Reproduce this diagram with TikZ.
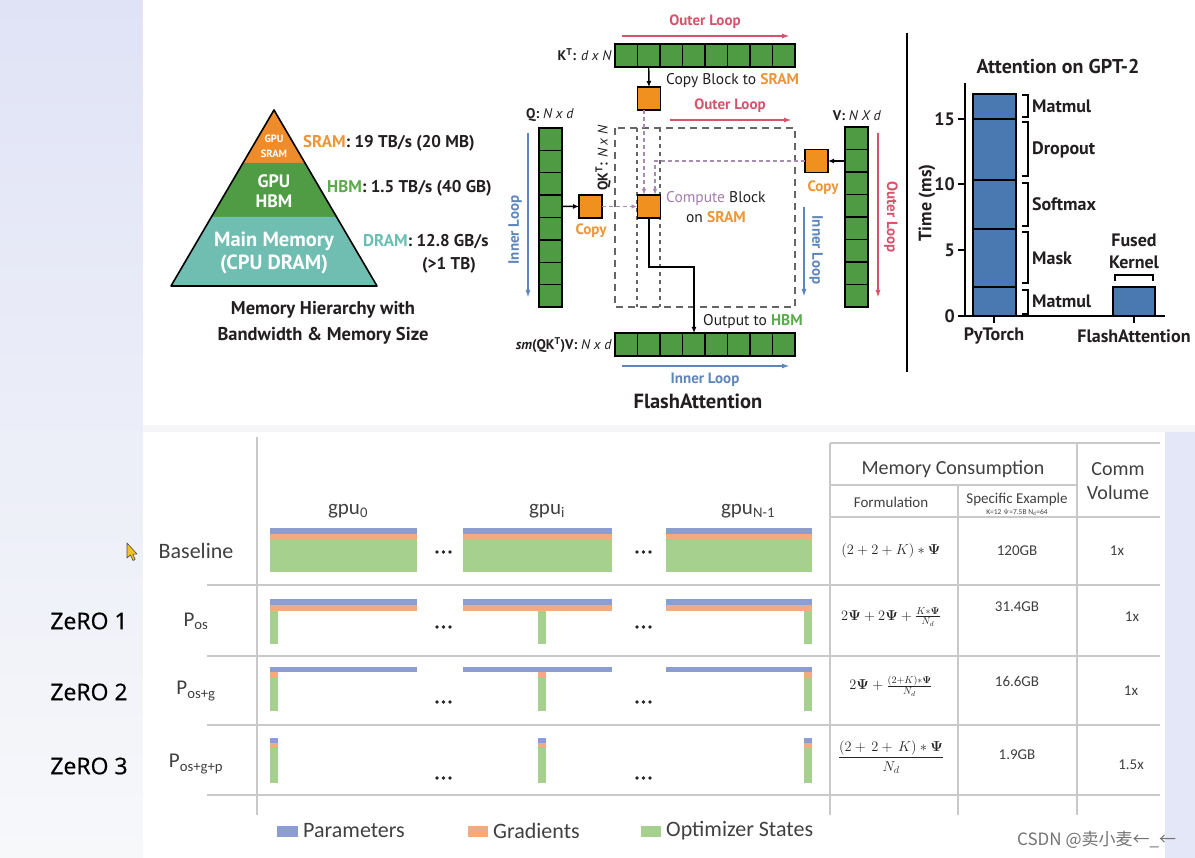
\documentclass[tikz,border=0pt]{standalone}
\usepackage[no-math]{fontspec}
\setmainfont{PT Sans}
\newfontfamily\cali{Carlito}
\newfontfamily\opens{Open Sans}[FakeBold=0.7]
\newfontfamily\cjk{Noto Sans CJK SC}
\usetikzlibrary{arrows.meta,calc}
\newcommand{\fsz}[1]{\fontsize{#1}{\fpeval{1.2*#1}}\selectfont}
\definecolor{sramc}{HTML}{EE8B2B}
\definecolor{hbmc}{HTML}{4F9C45}
\definecolor{dramc}{HTML}{70BDB1}
\definecolor{sramt}{HTML}{EC9636}
\definecolor{hbmt}{HTML}{5BAA4B}
\definecolor{dramt}{HTML}{69BFB3}
\definecolor{cellg}{HTML}{4E9B44}
\definecolor{blk}{HTML}{F0901E}
\definecolor{loopr}{HTML}{D6536D}
\definecolor{loopb}{HTML}{5E86BB}
\definecolor{purp}{HTML}{A57FAE}
\definecolor{pdashc}{HTML}{A98AB4}
\definecolor{barc}{HTML}{4A79B1}
\definecolor{txt}{HTML}{231F20}
\definecolor{lavA}{HTML}{E0E3F6}
\definecolor{lavC}{HTML}{F7F8FA}
\definecolor{gapc}{HTML}{F6F6F9}
\definecolor{rstrip}{HTML}{E4E7F8}
\definecolor{pb}{HTML}{8C9DD4}
\definecolor{po}{HTML}{F2AB80}
\definecolor{pg}{HTML}{A6D08D}
\definecolor{tline}{HTML}{C9C9C9}
\definecolor{tg}{HTML}{404040}
\definecolor{curs}{HTML}{F5C21B}
\tikzset{
  gcell/.style={draw=black, fill=cellg, line width=1.3pt, inner sep=0pt, outer sep=0pt},
  oblk/.style={draw=black, fill=blk, line width=1.3pt, minimum size=23pt, inner sep=0pt, outer sep=0pt},
  tarrow/.style={line width=1.4pt, -{Latex[length=6pt,width=5pt]}},
  pdash/.style={draw=pdashc, line width=1.2pt, dash pattern=on 4pt off 3pt, -{Latex[length=6pt,width=4.5pt]}},
  rloop/.style={draw=loopr, line width=1.6pt, -{Latex[length=8pt,width=5pt]}},
  bloop/.style={draw=loopb, line width=1.6pt, -{Latex[length=8pt,width=5pt]}},
  rtxt/.style={text=loopr, font=\bfseries\fsz{15}},
  btxt/.style={text=loopb, font=\bfseries\fsz{15}},
  otxt/.style={text=sramt, font=\bfseries\fsz{15}},
  brk/.style={line width=1.5pt},
  tl/.style={draw=tline, line width=1.1pt},
  calt/.style={text=tg, font=\cali\fsz{15}},
  chart/.style={font=\bfseries\fsz{18}},
}
\begin{document}
\begin{tikzpicture}[x=1pt,y=-1pt, text=txt, inner sep=1pt]
\useasboundingbox (0,0) rectangle (1195,858);
% backgrounds
\shade[top color=lavA, bottom color=lavC] (0,0) rectangle (1195,858);
\fill[white] (143,0) rectangle (1195,425);
\fill[gapc] (143,425) rectangle (1195,432);
\fill[white] (143,432) rectangle (1165,858);
\fill[rstrip] (1165,432) rectangle (1195,858);

% ================= pyramid =================
\fill[sramc] (274,110) -- (243,163) -- (305,163) -- cycle;
\fill[hbmc] (243,163) -- (211.4,217) -- (336.6,217) -- (305,163) -- cycle;
\fill[dramc] (211.4,217) -- (171,286) -- (377,286) -- (336.6,217) -- cycle;
\draw[line width=1.6pt, line join=round] (274,110) -- (171,286) -- (377,286) -- cycle;
\node[text=white, font=\bfseries\fontsize{10.5}{15}\selectfont, align=center] (gsram) at (274,146) {GPU\\SRAM};
\node[text=white, font=\bfseries\fontsize{18}{20}\selectfont, align=center] (ghbm) at (274,191) {GPU\\HBM};
\node[text=white, font=\bfseries\fontsize{20.5}{23}\selectfont, align=center] (gdram) at (274,253) {Main Memory\\(CPU DRAM)};
\node[anchor=west, font=\bfseries\fsz{17}] (lsram) at (302,143) {\textcolor{sramt}{SRAM}: 19 TB/s (20 MB)};
\node[anchor=west, font=\bfseries\fsz{17}] (lhbm) at (326,188) {\textcolor{hbmt}{HBM}: 1.5 TB/s (40 GB)};
\node[anchor=west, font=\bfseries\fsz{17}] (ldram) at (362,242) {\textcolor{dramt}{DRAM}: 12.8 GB/s};
\node[font=\bfseries\fsz{17}] (ltb) at (449,265) {(>1 TB)};
\node[font=\bfseries\fontsize{18.5}{26}\selectfont, align=center] (cap) at (323,323) {Memory Hierarchy with\\Bandwidth \& Memory Size};

% ================= FlashAttention =================
\foreach \i in {1,...,8} {
  \node[gcell, minimum width=22.5pt, minimum height=23pt] (kt\i) at ({615+22.5*\i-11.25},55.5) {};
  \node[gcell, minimum width=22.5pt, minimum height=23pt] (o\i) at ({615+22.5*\i-11.25},344.5) {};
  \node[gcell, minimum width=23pt, minimum height=22.375pt] (q\i) at (550.5,{128+22.375*\i-11.19}) {};
  \node[gcell, minimum width=23pt, minimum height=22.5pt] (v\i) at (856.5,{127+22.5*\i-11.25}) {};
}
\node[anchor=east, font=\fsz{14}] (ktlab) at (613,55) {\textbf{K\textsuperscript{T}:} \textit{d x N}};
\node[font=\fsz{14}] (qlab) at (550,115) {\textbf{Q:} \textit{N x d}};
\node[font=\fsz{14}] (vlab) at (857,116) {\textbf{V:} \textit{N X d}};
\node[anchor=east, font=\fsz{14}] (olab) at (613,345) {\textbf{\textit{sm}(QK\textsuperscript{T})V:} \textit{N x d}};
\node[rotate=90, font=\fsz{14}] (qklab) at (603,158) {\textbf{QK\textsuperscript{T}:} \textit{N x N}};

% dashed boxes
\draw[draw=black!60, line width=1.3pt, dash pattern=on 7pt off 5pt] (615,128) rectangle (795,307);
\draw[draw=black!60, line width=1.1pt, dash pattern=on 4pt off 4pt] (637,128) -- (637,307) (660,128) -- (660,307);

% orange blocks
\node[oblk] (topo) at (649,98.5) {};
\node[oblk] (comp) at (649,206.5) {};
\node[oblk] (qcopy) at (590.5,206.5) {};
\node[oblk] (vcopy) at (816.5,161) {};

% loops
\coordinate (ol1a) at (622,36); \coordinate (ol1b) at (790,36);
\draw[rloop] (ol1a) -- (ol1b);
\node[rtxt] (ol1t) at (705,22) {Outer Loop};
\coordinate (ol2a) at (670,120); \coordinate (ol2b) at (792,120);
\draw[rloop] (ol2a) -- (ol2b);
\node[rtxt] (ol2t) at (730,106) {Outer Loop};
\coordinate (ilqa) at (528,133); \coordinate (ilqb) at (528,298);
\draw[bloop] (ilqa) -- (ilqb);
\node[btxt, rotate=90] (ilqt) at (515,230) {Inner Loop};
\coordinate (ilva) at (804,207); \coordinate (ilvb) at (804,297);
\draw[bloop] (ilva) -- (ilvb);
\node[btxt, rotate=-90] (ilvt) at (816,250) {Inner Loop};
\coordinate (olva) at (878,133); \coordinate (olvb) at (878,298);
\draw[rloop] (olva) -- (olvb);
\node[rtxt, rotate=-90] (olvt) at (891,217) {Outer Loop};
\coordinate (ilba) at (622,366); \coordinate (ilbb) at (790,366);
\draw[bloop] (ilba) -- (ilbb);
\node[btxt] (ilbt) at (705,380) {Inner Loop};

% arrows
\draw[tarrow] (kt2.south) -- (topo.north);
\draw[tarrow] (q4.east) -- (qcopy.west);
\draw[tarrow] (v2.west |- vcopy.east) -- (vcopy.east);
\draw[pdash] ([xshift=-5pt]topo.south) -- ([xshift=-5pt]comp.north);
\draw[pdash] (vcopy.west) -| ([xshift=6pt]comp.north);
\draw[pdash] (qcopy.east) -- (comp.west);
\coordinate (oturn) at (694,267);
\draw[tarrow] (comp.south) |- (oturn) -- (oturn |- o4.north);

% texts
\node[anchor=west, font=\fsz{15.5}] (cpyt) at (665,81) {Copy Block to \textcolor{sramt}{\textbf{SRAM}}};
\node[anchor=west, font=\fsz{15.5}] (compt) at (665,199) {\textcolor{purp}{Compute} Block};
\node[font=\fsz{15.5}] (onsr) at (716,217) {on \textcolor{sramt}{\textbf{SRAM}}};
\node[otxt] (qcopyt) at (591,231) {Copy};
\node[otxt] (vcopyt) at (823,188) {Copy};
\node[anchor=west, font=\fsz{15.5}] (outt) at (702,322) {Output to \textcolor{hbmt}{\textbf{HBM}}};
\node[font=\bfseries\fsz{20.5}] (fat) at (698,401) {FlashAttention};

% divider
\draw[line width=1.5pt] (907,33) -- (907,372);

% ================= bar chart =================
\node[font=\bfseries\fsz{20}] (ctitle) at (1058,67) {Attention on GPT-2};
\draw[line width=2pt, fill=barc] (973,94) rectangle (1016,316);
\foreach \yy in {119,180,229,287} \draw[line width=2pt] (973,\yy) -- (1016,\yy);
\draw[line width=2pt, fill=barc] (1113,287) rectangle (1155,316);
\draw[line width=2pt] (965,83) -- (965,316) -- (1165,316);
\foreach \yy/\lab in {316/0,250/5,184/10,119/15} {
  \draw[line width=2pt] (958,\yy) -- (965,\yy);
  \node[anchor=east, chart] (yt\lab) at (956,\yy) {\lab};
}
\draw[line width=2pt] (994,316) -- (994,323);
\draw[line width=2pt] (1134,316) -- (1134,323);
\node[chart] (xpt) at (994,336) {PyTorch};
\node[chart] (xfa) at (1134,336) {FlashAttention};
\node[rotate=90, chart] (ylab) at (927,203) {Time (ms)};
\foreach \a/\b/\c/\nm/\k in {95/117/106/Matmul/1, 122/176/150/Dropout/2, 183/226/204/Softmax/3, 232/283/258/Mask/4, 290/314/301/Matmul/5} {
  \draw[brk] (1022,\a) -- (1028,\a) -- (1028,\b) -- (1022,\b);
  \node[anchor=west, chart] (seg\k) at (1031,\c) {\nm};
}
\draw[brk] (1115,281) -- (1115,275) -- (1153,275) -- (1153,281);
\node[chart] (fus) at (1134,240) {Fused};
\node[chart] (ker) at (1134,262) {Kernel};

% ================= ZeRO table =================
\draw[tl] (257,437) -- (257,815);
\draw[tl] (830,443) -- (830,815);
\draw[tl] (958,485) -- (958,815);
\draw[tl] (1077,443) -- (1077,815);
\draw[tl] (830,443) -- (1160,443);
\draw[tl] (830,485) -- (1077,485);
\draw[tl] (830,517) -- (1160,517);
\foreach \yy in {585,656,725,795} \draw[tl] (207,\yy) -- (1160,\yy);

\node[text=tg, font=\cali\fsz{21}] (g0) at (348,511) {gpu\textsubscript{0}};
\node[text=tg, font=\cali\fsz{21}] (gi) at (547,511) {gpu\textsubscript{i}};
\node[text=tg, font=\cali\fsz{21}] (gn) at (748,511) {gpu\textsubscript{N-1}};

\node[text=tg, font=\cali\fsz{22}] (rb) at (196,551) {Baseline};
\node[text=tg, font=\cali\fsz{21}] (r1) at (196,621) {P\textsubscript{os}};
\node[text=tg, font=\cali\fsz{21}] (r2) at (196,691) {P\textsubscript{os+g}};
\node[text=tg, font=\cali\fsz{21}] (r3) at (196,764) {P\textsubscript{os+g+p}};
\node[text=black, font=\opens\fsz{23}] (z1) at (89,621) {ZeRO 1};
\node[text=black, font=\opens\fsz{23}] (z2) at (89,692) {ZeRO 2};
\node[text=black, font=\opens\fsz{23}] (z3) at (89,766) {ZeRO 3};

% cursor
\draw[fill=curs, draw=black!70, line width=0.6pt, line join=round] (127,543) -- (127,558) -- (130.5,555) -- (133,560.5) -- (135.2,559.5) -- (132.8,554.2) -- (137,554) -- cycle;

% gpu bars
\foreach \xa/\xb/\s in {270/417/270, 463/612/538, 666/812/804} {
  \fill[pb] (\xa,528) rectangle (\xb,534);
  \fill[po] (\xa,534) rectangle (\xb,540);
  \fill[pg] (\xa,540) rectangle (\xb,572);
  \fill[pb] (\xa,599) rectangle (\xb,605);
  \fill[po] (\xa,605) rectangle (\xb,611);
  \fill[pg] (\s,611) rectangle (\s+8,644);
  \fill[pb] (\xa,667) rectangle (\xb,672);
  \fill[po] (\s,672) rectangle (\s+8,678);
  \fill[pg] (\s,678) rectangle (\s+8,711);
  \fill[pb] (\s,738) rectangle (\s+8,743);
  \fill[po] (\s,743) rectangle (\s+8,748);
  \fill[pg] (\s,748) rectangle (\s+8,783);
}
\foreach \yy in {552,627,702,778} {
  \foreach \xx in {437,443.5,450,637,643.5,650} \fill[black!85] (\xx,\yy) circle (1.8);
}

% table texts
\node[text=tg, font=\cali\fsz{20}] (mc) at (953,469) {Memory Consumption};
\node[text=tg, font=\cali\fontsize{20}{24}\selectfont, align=center] (cv) at (1118,481) {Comm\\Volume};
\node[calt] (fh) at (891,502) {Formulation};
\node[calt] (sh) at (1017,500) {Specific Example};
\node[text=tg, font=\cali\fsz{7.5}] (shk) at (1017,512.5) {K=12 $\Psi$=7.5B N\textsubscript{d}=64};

\node[text=black!85, font=\fsz{14.4}] (f1) at (891,551) {$(2+2+K)\ast\mathbf{\Psi}$};
\node[text=black!85, font=\fsz{14.4}] (f2) at (891,617) {$2\mathbf{\Psi}+2\mathbf{\Psi}+\frac{K\ast\mathbf{\Psi}}{N_d}$};
\node[text=black!85, font=\fsz{14.4}] (f3) at (891,686) {$2\mathbf{\Psi}+\frac{(2+K)\ast\mathbf{\Psi}}{N_d}$};
\node[text=black!85, font=\fsz{14.4}] (f4) at (891,757) {$\displaystyle\frac{(2+\,2+\,K)\ast\mathbf{\Psi}}{N_d}$};
\node[calt] (s1) at (1017,551) {120GB};
\node[calt] (s2) at (1017,607) {31.4GB};
\node[calt] (s3) at (1017,681) {16.6GB};
\node[calt] (s4) at (1017,755) {1.9GB};
\node[calt] (c1) at (1117,551) {1x};
\node[calt] (c2) at (1132,617) {1x};
\node[calt] (c3) at (1131,691) {1x};
\node[calt] (c4) at (1131,765) {1.5x};

% legend
\fill[pb] (277,826) rectangle (298,837);
\node[anchor=west, text=tg, font=\cali\fsz{22}] (lp) at (302,831) {Parameters};
\fill[po] (468,826) rectangle (488,837);
\node[anchor=west, text=tg, font=\cali\fsz{22}] (lg) at (492,831) {Gradients};
\fill[pg] (641,826) rectangle (661,837);
\node[anchor=west, text=tg, font=\cali\fsz{22}] (lo) at (665,831) {Optimizer States};
\node[anchor=west, text=black!55, font=\cjk\fsz{17}] (csdn) at (1016,840) {CSDN @卖小麦←\_←};
\end{tikzpicture}
\end{document}
